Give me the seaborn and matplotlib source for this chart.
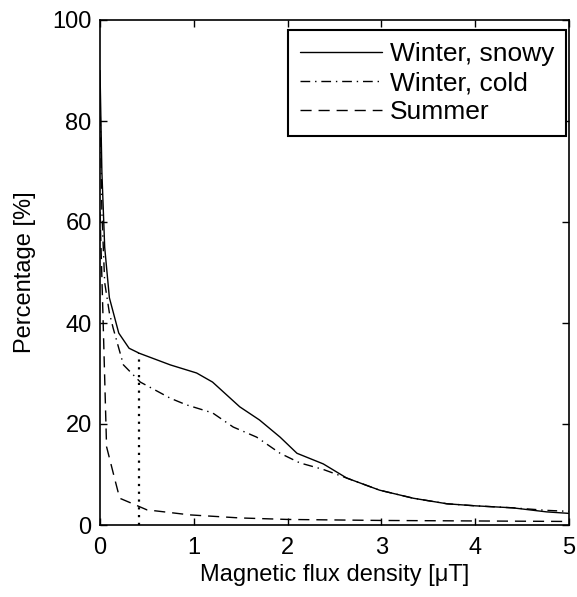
import numpy as np
import pandas as pd
import matplotlib
matplotlib.use("Agg")
import matplotlib.pyplot as plt
import seaborn as sns

# --- data ---
x_snowy = [0.0, 0.02, 0.05, 0.1, 0.2, 0.31, 0.42, 0.75, 1.03, 1.2, 1.49, 1.7, 1.92, 2.1, 2.38, 2.63, 2.98, 3.34, 3.7, 4.0, 4.4, 4.76, 5.0]
y_snowy = [90.0, 70.0, 55.0, 45.0, 38.0, 35.0, 34.0, 31.7, 30.1, 28.3, 23.4, 20.8, 17.4, 14.2, 12.1, 9.3, 6.9, 5.3, 4.2, 3.8, 3.4, 2.6, 2.3]

x_cold = [0.0, 0.02, 0.05, 0.1, 0.14, 0.25, 0.43, 0.75, 0.92, 1.2, 1.42, 1.67, 1.92, 2.13, 2.38, 2.63, 2.98, 3.34, 3.7, 4.0, 4.4, 4.76, 5.0]
y_cold = [85.0, 62.0, 48.0, 42.0, 39.0, 31.7, 28.3, 25.1, 23.8, 22.2, 19.4, 17.4, 14.2, 12.3, 11.0, 9.3, 6.9, 5.3, 4.2, 3.8, 3.4, 2.9, 2.7]

x_summer = [0.0, 0.03, 0.07, 0.16, 0.21, 0.35, 0.5, 0.96, 1.49, 2.0, 3.0, 4.0, 5.0]
y_summer = [62.0, 42.6, 15.5, 8.9, 5.3, 4.2, 3.0, 2.0, 1.4, 1.1, 0.9, 0.8, 0.7]

marker_x = 0.42
marker_top = 34.0

labels = ["Winter, snowy", "Winter, cold", "Summer"]
x_ticks = [0, 1, 2, 3, 4, 5]
y_ticks = [0, 20, 40, 60, 80, 100]

sns.set_theme(style="white")
plt.rcParams["font.family"] = ["Liberation Sans", "DejaVu Sans"]
plt.rcParams["text.color"] = "black"
plt.rcParams["axes.labelcolor"] = "black"

fig = plt.figure(figsize=(5.77, 5.97), dpi=100)
ax = fig.add_axes([100/577, 72/597, 469/577, 505/597])

df = pd.concat([
    pd.DataFrame({"x": x_snowy, "y": y_snowy, "s": labels[0]}),
    pd.DataFrame({"x": x_cold, "y": y_cold, "s": labels[1]}),
    pd.DataFrame({"x": x_summer, "y": y_summer, "s": labels[2]}),
])
sns.lineplot(data=df, x="x", y="y", style="s", style_order=labels,
             dashes=["", (7, 3.5, 1, 3.5), (8, 5)], color="black",
             linewidth=1.0, sort=False, ax=ax)

ax.vlines(marker_x, 0, marker_top, colors="black", linestyles=(0, (1, 2.5)), linewidth=1.6)

ax.set_xlim(0, 5)
ax.set_ylim(0, 100)
ax.set_xticks(x_ticks)
ax.set_yticks(y_ticks)
ax.tick_params(direction="in", length=5, width=1, labelsize=17, top=True, right=True,
               bottom=True, left=True, colors="black")
ax.tick_params(axis="x", pad=9)
ax.tick_params(axis="y", pad=6)
for s in ax.spines.values():
    s.set_color("black")
    s.set_linewidth(1.2)
ax.set_xlabel("Magnetic flux density [μT]", fontsize=17, labelpad=3)
ax.set_ylabel("Percentage [%]", fontsize=17, labelpad=12)

leg = ax.legend(loc="upper right", bbox_to_anchor=(1 - 3/469, 1 - 10/505),
                fontsize=19, frameon=True, fancybox=False, framealpha=1,
                edgecolor="black", handlelength=3.1, borderaxespad=0.0,
                labelspacing=0.2, handletextpad=0.3, borderpad=0.45)
leg.get_frame().set_linewidth(1.5)
leg.get_frame().set_edgecolor("black")
leg.set_title(None)

fig.savefig("out.png", dpi=100)
